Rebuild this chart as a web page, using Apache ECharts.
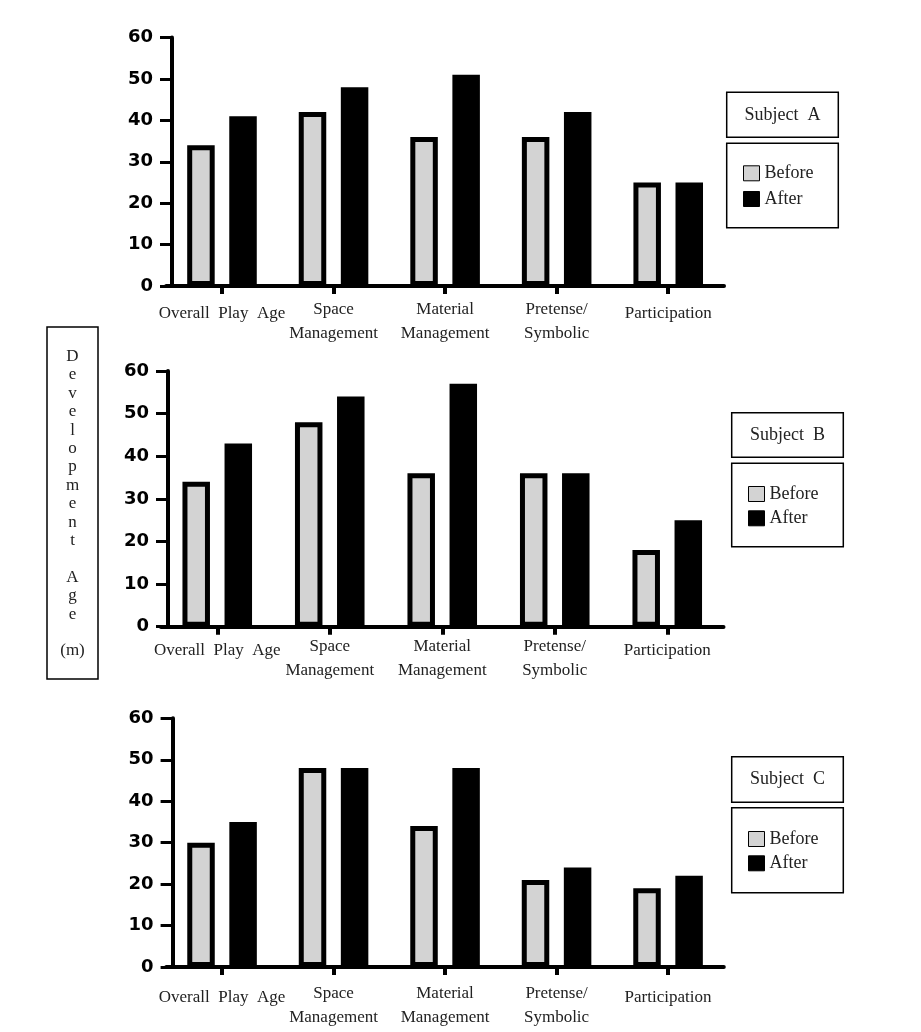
<!DOCTYPE html>
<html><head><meta charset="utf-8">
<script src="https://cdn.jsdelivr.net/npm/echarts@6/dist/echarts.min.js"></script>
<style>html,body{margin:0;padding:0;background:#fff}#c{width:921px;height:1032px}</style>
</head><body><div id="c"></div>
<script>
// ---- data ----
const categories = ['Overall  Play  Age', 'Space\nManagement', 'Material\nManagement', 'Pretense/\nSymbolic', 'Participation'];
const subjects = ['Subject  A', 'Subject  B', 'Subject  C'];
const seriesNames = ['Before', 'After'];
const beforeA = [34, 42, 36, 36, 25];
const afterA  = [41, 48, 51, 42, 25];
const beforeB = [34, 48, 36, 36, 18];
const afterB  = [43, 54, 57, 36, 25];
const beforeC = [30, 48, 34, 21, 19];
const afterC  = [35, 48, 48, 24, 22];
const yMin = 0, yMax = 60, yInterval = 10;
const yTitleWords = ['Development', 'Age', '(m)'];

// ---- layout ----
const panels = [
  { before: beforeA, after: afterA, grid: {left: 166.2, top: 37.5, width: 557.8, height: 248.5}, yOff: -5.8, margin: 11.3,
    subj: [726.7, 92.3, 111.6, 45], leg: [726.7, 143.3, 111.6, 84.4], legLeft: 743, legTop: 163.3, legGap: 5.7 },
  { before: beforeB, after: afterB, grid: {left: 161, top: 371, width: 562.5, height: 255.7}, yOff: -7, margin: 8,
    subj: [731.7, 412.7, 111.6, 44.6], leg: [731.7, 463.3, 111.6, 83.4], legLeft: 748, legTop: 484, legGap: 4.3 },
  { before: beforeC, after: afterC, grid: {left: 166.3, top: 718.3, width: 557.5, height: 248.7}, yOff: -6.3, margin: 14.3,
    subj: [731.7, 756.7, 111.6, 45.6], leg: [731.7, 807.7, 111.6, 85], legLeft: 748, legTop: 829, legGap: 4.3 }
];

const SERIF = 'Liberation Serif';
const TXT = '#222';

const grid = [], xAxis = [], yAxis = [], series = [], legend = [], graphic = [];
panels.forEach((p, i) => {
  grid.push(Object.assign({containLabel: false}, p.grid));
  xAxis.push({
    type: 'category', gridIndex: i, data: categories,
    axisLine: {show: true, lineStyle: {color: '#000', width: 4}},
    axisTick: {show: true, alignWithLabel: true, length: 8, lineStyle: {color: '#000', width: 4}},
    axisLabel: {
      interval: 0, margin: p.margin, fontFamily: SERIF, fontSize: 17, color: TXT, lineHeight: 24,
      formatter: v => v.indexOf('\n') >= 0 ? v : '{s|' + v + '}',
      rich: {s: {lineHeight: 32, fontFamily: SERIF, fontSize: 17, color: TXT}}
    },
    splitLine: {show: false}
  });
  yAxis.push({
    type: 'value', gridIndex: i, min: yMin, max: yMax, interval: yInterval, offset: p.yOff,
    axisLine: {show: true, lineStyle: {color: '#000', width: 4}},
    axisTick: {show: true, length: 12, lineStyle: {color: '#000', width: 3}},
    axisLabel: {margin: 19, fontFamily: 'DejaVu Sans', fontWeight: 'bold', fontSize: 18, color: '#000'},
    splitLine: {show: false}
  });
  series.push({
    name: seriesNames[0], type: 'bar', xAxisIndex: i, yAxisIndex: i, data: p.before,
    barWidth: 27.5, barGap: '53%',
    itemStyle: {color: '#d3d3d3', borderColor: '#000', borderWidth: 5}
  });
  series.push({
    name: seriesNames[1], type: 'bar', xAxisIndex: i, yAxisIndex: i, data: p.after,
    barWidth: 27.5, barGap: '53%',
    itemStyle: {color: '#000', borderColor: '#000', borderWidth: 5}
  });
  legend.push({
    orient: 'vertical', left: p.legLeft, top: p.legTop, padding: 0,
    itemWidth: 16, itemHeight: 15, itemGap: p.legGap, icon: 'rect', selectedMode: false,
    data: seriesNames,
    itemStyle: {borderWidth: 1, borderColor: '#000'},
    textStyle: {fontFamily: SERIF, fontSize: 18, color: TXT, lineHeight: 20}
  });
  graphic.push({type: 'rect', shape: {x: p.subj[0], y: p.subj[1], width: p.subj[2], height: p.subj[3]},
    style: {fill: '#fff', stroke: '#000', lineWidth: 1.5}, z: 1});
  graphic.push({type: 'text', x: p.subj[0] + p.subj[2] / 2, y: p.subj[1] + p.subj[3] / 2, z: 2,
    style: {text: subjects[i], fontFamily: SERIF, fontSize: 18, fill: TXT, align: 'center', verticalAlign: 'middle'}});
  graphic.push({type: 'rect', shape: {x: p.leg[0], y: p.leg[1], width: p.leg[2], height: p.leg[3]},
    style: {fill: 'none', stroke: '#000', lineWidth: 1.5}, z: 1});
});

const yTitleText = yTitleWords.map(w => w === '(m)' ? w : w.split('').join('\n')).join('\n\n');
graphic.push({type: 'rect', shape: {x: 47, y: 327, width: 51, height: 352},
  style: {fill: 'none', stroke: '#000', lineWidth: 1.5}});
graphic.push({type: 'text', x: 72.5, y: 347.3,
  style: {text: yTitleText, fontFamily: SERIF, fontSize: 17, fill: TXT, align: 'center', verticalAlign: 'top', lineHeight: 18.4}});

const chart = echarts.init(document.getElementById('c'), null, {renderer: 'canvas'});
chart.setOption({
  backgroundColor: '#fff',
  animation: false,
  grid, xAxis, yAxis, series, legend, graphic
});
</script>
</body></html>
